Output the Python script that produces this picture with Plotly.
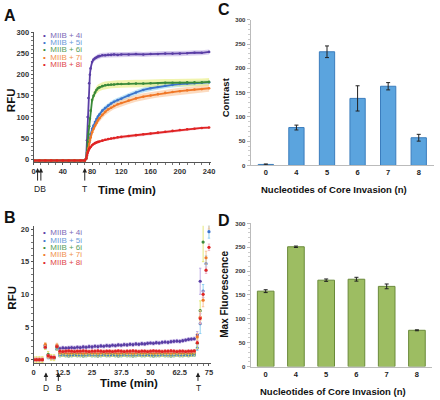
import plotly.graph_objects as go

FONT = "Liberation Sans, Arial, sans-serif"
W, H = 440, 400

SERIES = ["MIIB + 4i", "MIIB + 5i", "MIIB + 6i", "MIIB + 7i", "MIIB + 8i"]
DOT_COLORS = ["#5a3ea5", "#3c74cc", "#3a8a3a", "#f07828", "#e02424"]
TXT_COLORS = ["#7d6bb8", "#6b9bd9", "#58a05a", "#f0924e", "#e0474a"]
BAND_COLORS = ["rgba(185,165,225,0.55)", "rgba(135,205,240,0.55)", "rgba(232,236,120,0.6)",
               "rgba(250,190,140,0.55)", "rgba(240,170,190,0.5)"]
ERRBAR_COLORS = ["rgba(185,165,225,0.9)", "rgba(135,205,240,0.9)", "rgba(225,230,110,0.9)",
                 "rgba(250,190,140,0.9)", "rgba(240,170,190,0.9)"]

# ---------------- Panel A data ----------------
TIME_A = [0, 8, 16, 24, 32, 40, 48, 56, 64, 70, 72, 73, 74, 75, 76, 77, 78, 80, 82, 84, 86, 88, 90,
          94, 98, 102, 106, 110, 115, 120, 130, 140, 150, 160, 170, 180, 190, 200, 210, 220, 230, 240]
BASE_A = [-3, -3, -3, -3, -3, -3, -3, -3, -3, -3]
A_4I = BASE_A + [5, 45, 100, 145, 180, 200, 215, 230, 236, 239, 241, 243, 244, 246, 246, 247, 247, 248,
                 247, 248, 248, 249, 248, 249, 249, 250, 250, 250, 251, 252, 252, 254]
A_5I = BASE_A + [2, 8, 18, 28, 40, 50, 58, 72, 80, 88, 95, 101, 106, 115, 121, 127, 132, 136,
                 140, 143, 151, 158, 164, 168, 171, 174, 176, 178, 179, 180, 181, 182]
A_6I = BASE_A + [2, 15, 40, 60, 78, 96, 115, 140, 150, 158, 164, 168, 170, 173, 175, 176, 177, 177,
                 178, 178, 179, 179, 179, 180, 180, 181, 181, 181, 182, 182, 182, 183]
A_7I = BASE_A + [2, 8, 17, 26, 36, 45, 52, 64, 72, 80, 86, 92, 97, 105, 112, 118, 122, 126,
                 130, 133, 139, 144, 148, 151, 154, 157, 159, 161, 163, 165, 166, 168]
A_8I = BASE_A + [2, 10, 16, 20, 24, 27, 29, 33, 36, 38, 40, 41, 42, 44, 46, 48, 49, 50,
                 52, 53, 55, 57, 59, 61, 63, 65, 67, 69, 71, 72, 74, 75]
SD_A = [6, 6, 9, 8, 3]

# ---------------- Panel B data ----------------
TIME_B = [0, 1.25, 2.5, 3.75, 5, 6.25, 7.5, 8.75, 10, 11.25, 12.5, 13.75, 15, 16.25, 17.5, 18.75, 20,
          21.25, 22.5, 23.75, 25, 26.25, 27.5, 28.75, 30, 31.25, 32.5, 33.75, 35, 36.25, 37.5, 38.75,
          40, 41.25, 42.5, 43.75, 45, 46.25, 47.5, 48.75, 50, 51.25, 52.5, 53.75, 55, 56.25, 57.5,
          58.75, 60, 61.25, 62.5, 63.75, 65, 66.25, 67.5, 68.75, 70, 71.25, 72.5, 73.75, 75]
B_4I = ([0, 0, 0, 0, 2.2, 0.7, 0.4, 0.4, 2.1] +
        [1.7, 1.8, 1.75, 1.8, 1.85, 1.8, 1.9, 1.85, 1.95, 1.9,
         2.0, 1.95, 2.05, 2.0, 2.1, 2.05, 2.15, 2.1, 2.2, 2.15,
         2.25, 2.2, 2.3, 2.25, 2.35, 2.3, 2.4, 2.35, 2.45, 2.4,
         2.5, 2.55, 2.5, 2.6, 2.55, 2.65, 2.7, 2.65, 2.75, 2.8,
         2.85, 2.8, 2.9, 3.0, 3.1, 3.15, 3.2] +
        [3.8, 12, 26, 40, 60])
B_5I = ([0, 0, 0, 0, 1.8, 0.3, 0.2, 0.2, 1.6] +
        [0.6, 0.65, 0.6, 0.55, 0.6, 0.65, 0.6, 0.6, 0.55, 0.6,
         0.65, 0.6, 0.6, 0.55, 0.6, 0.65, 0.6, 0.6, 0.65, 0.6,
         0.55, 0.6, 0.65, 0.6, 0.6, 0.55, 0.6, 0.65, 0.6, 0.6,
         0.65, 0.6, 0.55, 0.6, 0.6, 0.65, 0.6, 0.6, 0.55, 0.6,
         0.65, 0.6, 0.6, 0.65, 0.6, 0.65, 0.7] +
        [1.8, 5.5, 10.5, 14.7, 19.6])
B_6I = ([0, 0, 0, 0, 2.0, 0.8, 0.35, 0.3, 1.9] +
        [0.9, 0.95, 0.9, 0.85, 0.9, 0.95, 0.9, 0.9, 0.85, 0.9,
         0.95, 0.9, 0.9, 0.85, 0.9, 0.95, 0.9, 0.9, 0.95, 0.9,
         0.85, 0.9, 0.95, 0.9, 0.9, 0.85, 0.9, 0.95, 0.9, 0.9,
         0.95, 0.9, 0.85, 0.9, 0.9, 0.95, 0.9, 0.9, 0.85, 0.9,
         0.95, 0.9, 0.9, 0.95, 0.9, 0.95, 1.0] +
        [2.5, 7.5, 18, 24, 30])
B_7I = ([0, 0, 0, 0, 2.3, 0.5, 0.3, 0.3, 2.2] +
        [1.1, 1.15, 1.1, 1.05, 1.1, 1.15, 1.1, 1.1, 1.05, 1.1,
         1.15, 1.1, 1.1, 1.05, 1.1, 1.15, 1.1, 1.1, 1.15, 1.1,
         1.05, 1.1, 1.15, 1.1, 1.1, 1.05, 1.1, 1.15, 1.1, 1.1,
         1.15, 1.1, 1.05, 1.1, 1.1, 1.15, 1.1, 1.1, 1.05, 1.1,
         1.15, 1.1, 1.1, 1.15, 1.1, 1.15, 1.2] +
        [3.5, 6.5, 9.1, 15.6, 21])
B_8I = ([0, 0, 0, 0, 1.9, 0.6, 0.4, 0.35, 2.0] +
        [1.3, 1.25, 1.3, 1.35, 1.3, 1.25, 1.3, 1.3, 1.35, 1.3,
         1.25, 1.3, 1.3, 1.35, 1.3, 1.25, 1.3, 1.3, 1.25, 1.3,
         1.35, 1.3, 1.25, 1.3, 1.3, 1.35, 1.3, 1.25, 1.3, 1.3,
         1.25, 1.3, 1.35, 1.3, 1.3, 1.25, 1.3, 1.3, 1.35, 1.3,
         1.25, 1.3, 1.3, 1.25, 1.3, 1.3, 1.35] +
        [2.6, 6.3, 10, 13.7, 17.2])
ERR_B = [0.25, 0.15, 0.45, 0.3, 0.2]
ERR_B_TAIL = [[0.5, 2, 3, 3, 3], [0.4, 1.5, 1.0, 1.2, 1.0], [0.8, 1.5, 3, 3, 3],
              [0.5, 1.0, 1.0, 1.0, 1.0], [0.3, 0.8, 0.5, 0.5, 0.5]]

# event times (min)
MARKS_A = [5.5, 10, 70]
MARKS_B = [5.3, 10.6, 70.3]

# ---------------- Panel C / D data ----------------
CATS = ["0", "4", "5", "6", "7", "8"]
CONTRAST = [2, 78, 234, 138, 163, 57]
CONTRAST_ERR = [1, 5, 12, 26, 7.5, 7]
MAXF = [158, 251, 181, 183, 168, 76]
MAXF_ERR = [3, 1.5, 2.5, 4, 5, 1]

fig = go.Figure()

# Panel A bands
A_SERIES = [A_4I, A_5I, A_6I, A_7I, A_8I]
for vals, sd, bc in zip(A_SERIES, SD_A, BAND_COLORS):
    idx = [i for i, t in enumerate(TIME_A) if t >= 72]
    xs = [TIME_A[i] for i in idx]
    up = [vals[i] + sd for i in idx]
    lo = [vals[i] - sd for i in idx]
    fig.add_trace(go.Scatter(x=xs + xs[::-1], y=up + lo[::-1], fill="toself", fillcolor=bc,
                             line=dict(width=0), mode="lines", hoverinfo="skip",
                             showlegend=False, xaxis="x", yaxis="y"))
for vals, c, name in zip(A_SERIES, DOT_COLORS, SERIES):
    fig.add_trace(go.Scatter(x=TIME_A, y=vals, mode="lines+markers", name=name,
                             line=dict(color=c, width=1.8), marker=dict(color=c, size=2.6),
                             showlegend=False, xaxis="x", yaxis="y"))

# Panel B
B_SERIES = [B_4I, B_5I, B_6I, B_7I, B_8I]
for vals, c, ec, e, tail, name in zip(B_SERIES, DOT_COLORS, ERRBAR_COLORS, ERR_B, ERR_B_TAIL, SERIES):
    err = [e] * (len(TIME_B) - len(tail)) + tail
    fig.add_trace(go.Scatter(x=TIME_B, y=vals, mode="markers", name=name,
                             marker=dict(color=c, size=3.2),
                             error_y=dict(type="data", array=err, color=ec, thickness=1, width=1.2),
                             showlegend=False, xaxis="x2", yaxis="y2"))

# Panel C
fig.add_trace(go.Bar(x=CATS, y=CONTRAST, width=0.5,
                     marker=dict(color="#5ba4de", line=dict(color="#3b7dbd", width=1)),
                     error_y=dict(type="data", array=CONTRAST_ERR, color="#222", thickness=1, width=2),
                     showlegend=False, xaxis="x3", yaxis="y3"))
# Panel D
fig.add_trace(go.Bar(x=CATS, y=MAXF, width=0.55,
                     marker=dict(color="#9dbd62", line=dict(color="#6a8a3a", width=1)),
                     error_y=dict(type="data", array=MAXF_ERR, color="#222", thickness=1, width=2),
                     showlegend=False, xaxis="x4", yaxis="y4"))


def px(x):
    return x / W


def py(y):
    return 1 - y / H


tickA = dict(family=FONT, size=7.5, color="#333", weight="bold")
tickC = dict(family=FONT, size=6, color="#333", weight="bold")
tickCx = dict(family=FONT, size=7.5, color="#222", weight="bold")
axA = dict(showline=True, linecolor="#555", linewidth=1, ticks="outside", ticklen=2,
           tickcolor="#555", showgrid=False, zeroline=False, tickfont=tickA)
axC = dict(showline=True, linecolor="#bbb", linewidth=1, showgrid=False, zeroline=False)

fig.update_layout(
    width=W, height=H, margin=dict(l=0, r=0, t=0, b=0),
    paper_bgcolor="white", plot_bgcolor="white", showlegend=False,
    xaxis=dict(axA, domain=[px(32), px(212.2)], range=[0, 243], tickvals=[0, 40, 80, 120, 160, 200, 240],
               minor=dict(ticks="outside", ticklen=2, dtick=10, tickcolor="#777"), anchor="y"),
    yaxis=dict(axA, domain=[py(161), py(29)], range=[-7, 300], tickvals=[0, 50, 100, 150, 200, 250, 300],
               minor=dict(ticks="outside", ticklen=2, dtick=10, tickcolor="#777"), anchor="x"),
    xaxis2=dict(axA, domain=[px(32), px(212.2)], range=[0, 76],
                tickvals=[0, 12.5, 25, 37.5, 50, 62.5, 75],
                minor=dict(ticks="outside", ticklen=2, dtick=2.5, tickcolor="#777"), anchor="y2"),
    yaxis2=dict(axA, domain=[py(365.3), py(225.7)], range=[-0.5, 20.5], tickvals=[0, 5, 10, 15, 20],
                minor=dict(ticks="outside", ticklen=2, dtick=1, tickcolor="#777"), anchor="x2"),
    xaxis3=dict(axC, domain=[px(252), px(438)], type="category", range=[-0.5, 5.5],
                tickfont=tickCx, ticks="", anchor="y3"),
    yaxis3=dict(axC, domain=[py(164.3), py(16)], range=[0, 300], tickvals=[0, 50, 100, 150, 200, 250, 300],
                tickfont=tickC, ticks="outside", ticklen=3, tickcolor="#bbb",
                minor=dict(ticks="outside", ticklen=2, dtick=10, tickcolor="#ccc"), anchor="x3"),
    xaxis4=dict(axC, domain=[px(252), px(436)], type="category", range=[-0.5, 5.5],
                tickfont=tickCx, ticks="", anchor="y4"),
    yaxis4=dict(axC, domain=[py(369), py(223.3)], range=[0, 300], tickvals=[0, 50, 100, 150, 200, 250, 300],
                tickfont=tickC, ticks="outside", ticklen=3, tickcolor="#bbb",
                minor=dict(ticks="outside", ticklen=2, dtick=10, tickcolor="#ccc"), anchor="x4"),
)

ann = []


def text(x, y, s, size, bold=True, angle=0, color="#111", xanchor="center"):
    ann.append(dict(x=px(x), y=py(y), xref="paper", yref="paper", text=s, showarrow=False,
                    xanchor=xanchor, yanchor="middle", textangle=angle, borderpad=0,
                    font=dict(family=FONT, size=size, color=color, weight="bold" if bold else "normal")))


# panel letters
text(8, 12, "A", 16)
text(8, 217, "B", 16)
text(225, 6, "C", 16)
text(225, 220, "D", 16)
# axis titles
text(9, 98, "RFU", 11.5, angle=-90)
text(127, 189, "Time (min)", 11.5)
text(10, 299, "RFU", 11.5, angle=-90)
text(129, 386, "Time (min)", 11.5)
text(226, 95, "Contrast", 9.5, angle=-90)
text(337, 189, "Nucleotides of Core Invasion (n)", 9.5)
text(226, 295, "Max Fluorescence", 10, angle=-90)
text(336, 394, "Nucleotides of Core Invasion (n)", 9.5)

# legends (one annotation per row: dot + coloured label)
for i, (name, dc, tc) in enumerate(zip(SERIES, DOT_COLORS, TXT_COLORS)):
    for y0 in (32, 233):
        yy = y0 + i * 7.4
        row = (f"<span style='color:{dc}'>•</span>&nbsp;&nbsp;"
               f"<span style='color:{tc}'>{name}</span>")
        text(40.5, yy, row, 8, bold=False, color=tc, xanchor="left")


# event arrows and labels
def arrow(xref, t, y_head, y_tail):
    ann.append(dict(x=t, y=py(y_head), xref=xref, yref="paper", text="", showarrow=True,
                    ax=0, ay=y_tail - y_head, arrowhead=2, arrowsize=0.9, arrowwidth=1,
                    arrowcolor="#222"))


for t in MARKS_A:
    arrow("x", t, 167, 181)
text(39, 188, "DB", 8.5, bold=False, color="#222")
text(84, 188, "T", 8.5, bold=False, color="#222")

for t in MARKS_B:
    arrow("x2", t, 375, 385)
text(44.5, 391, "D", 8.5, bold=False, color="#222")
text(57.5, 391, "B", 8.5, bold=False, color="#222")
text(199, 391, "T", 8.5, bold=False, color="#222")

fig.update_layout(annotations=ann)
fig.write_html("out.html")
